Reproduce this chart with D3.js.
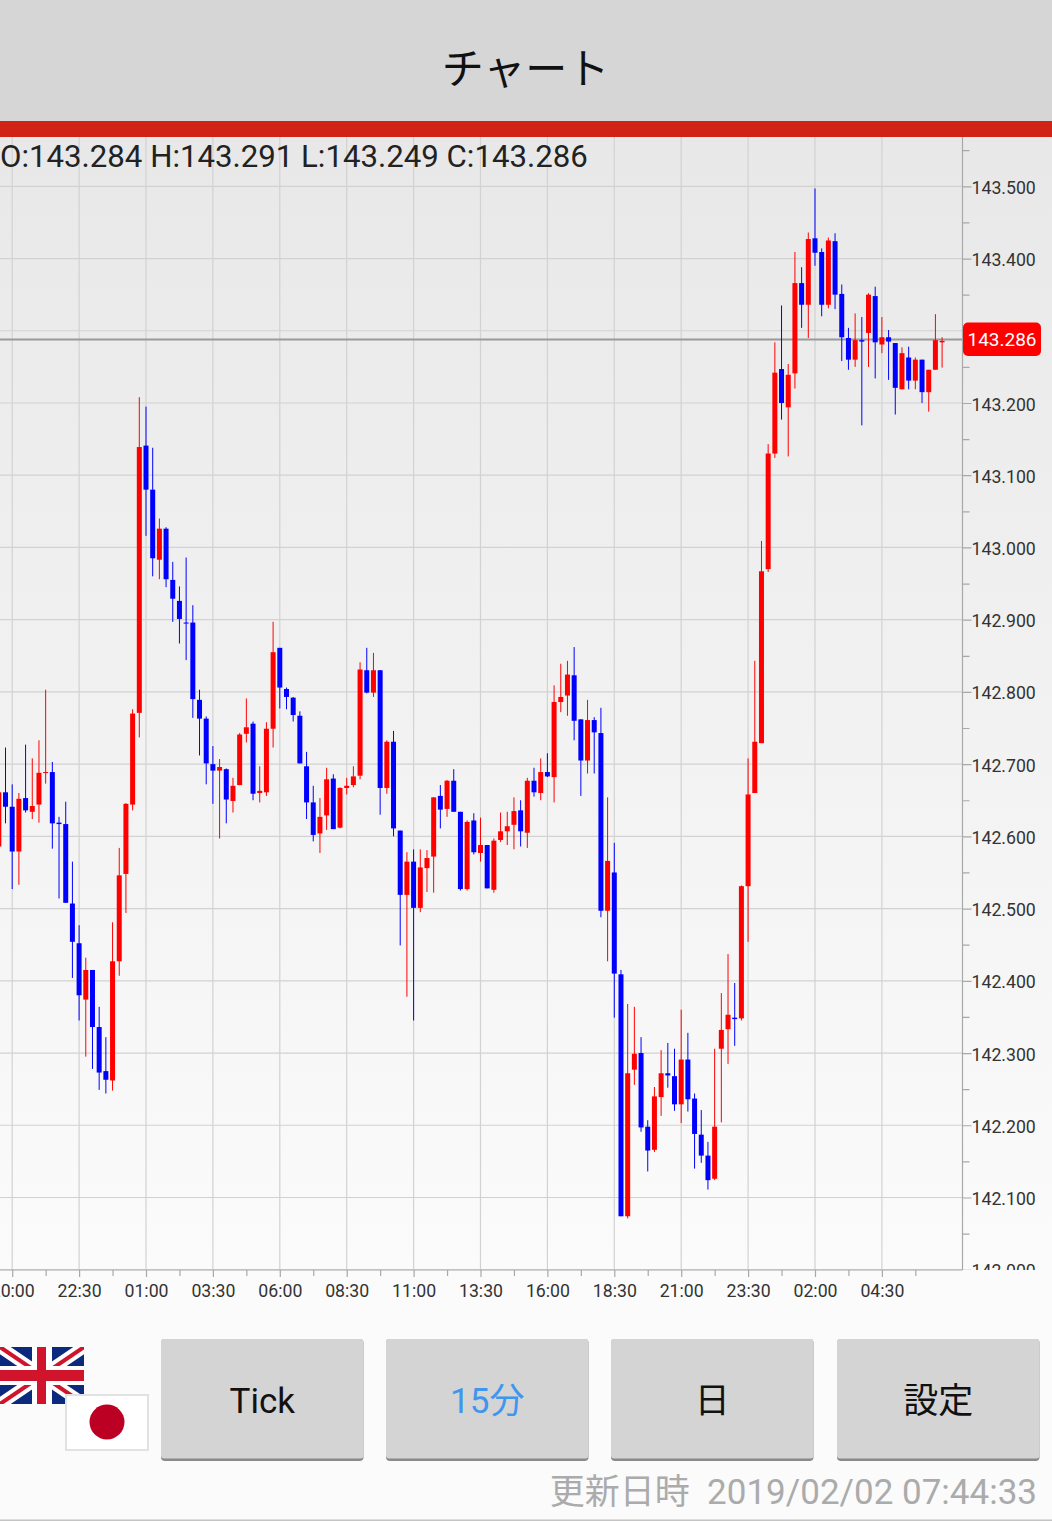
<!DOCTYPE html>
<html>
<head>
<meta charset="utf-8">
<script src="https://cdn.jsdelivr.net/npm/d3@7.9.0/dist/d3.min.js"></script>
<style>
    html, body { margin: 0; padding: 0; background: #fbfbfb; overflow: hidden; }
    svg { display: block; }
    text { font-family: Roboto, "Noto Sans CJK JP", sans-serif; }
    .cjk { font-family: "Noto Sans CJK JP", Roboto, sans-serif; }
</style>
</head>
<body>
<svg id="chart" width="1052" height="1521"></svg>
<script>
const opens = [
    142.586, 142.661, 142.641, 142.579, 142.653, 142.634, 142.644, 142.688, 142.689, 142.619,
    142.617, 142.507, 142.452, 142.374, 142.415, 142.336, 142.275, 142.262, 142.427, 142.548,
    142.644, 142.771,
    143.141, 143.080, 142.983, 143.026, 142.955, 142.926, 142.896, 142.896, 142.789, 142.763,
    142.700, 142.691, 142.693, 142.649, 142.671, 142.742, 142.756, 142.660, 142.661, 142.749,
    142.861, 142.804, 142.792, 142.767, 142.697, 142.647, 142.604, 142.629, 142.680, 142.612,
    142.667, 142.671, 142.684, 142.830, 142.799, 142.830, 142.667, 142.731, 142.608, 142.519,
    142.565, 142.501, 142.556, 142.572, 142.656, 142.638, 142.677, 142.634, 142.527, 142.622,
    142.577, 142.588, 142.526, 142.595, 142.607, 142.616, 142.636, 142.605, 142.677, 142.660,
    142.689, 142.682, 142.786, 142.795, 142.823, 142.762, 142.705, 142.761, 142.743, 142.497,
    142.550, 142.409, 142.074, 142.277, 142.300, 142.198, 142.166, 142.239, 142.272, 142.268,
    142.229, 142.291, 142.237, 142.187, 142.158, 142.126, 142.306, 142.333, 142.349, 142.348,
    142.531, 142.660, 142.729, 142.970, 143.130, 143.247, 143.194, 143.241, 143.366, 143.336,
    143.428, 143.409, 143.336, 143.424, 143.351, 143.290, 143.260, 143.287, 143.297, 143.348,
    143.281, 143.291, 143.283, 143.219, 143.263, 143.231, 143.260, 143.215, 143.246, 143.284
];
const highs = [
    142.670, 142.723, 142.672, 142.660, 142.727, 142.708, 142.733, 142.803, 142.703, 142.627,
    142.648, 142.565, 142.477, 142.432, 142.415, 142.364, 142.322, 142.481, 142.584, 142.646,
    142.776, 143.208,
    143.195, 143.138, 143.040, 143.028, 142.980, 142.946, 142.986, 142.920, 142.803, 142.766,
    142.725, 142.707, 142.694, 142.681, 142.743, 142.791, 142.759, 142.697, 142.758, 142.897,
    142.861, 142.806, 142.793, 142.773, 142.717, 142.670, 142.653, 142.695, 142.686, 142.668,
    142.681, 142.697, 142.841, 142.861, 142.854, 142.830, 142.733, 142.746, 142.608, 142.578,
    142.582, 142.582, 142.581, 142.654, 142.671, 142.678, 142.693, 142.634, 142.622, 142.632,
    142.626, 142.588, 142.597, 142.633, 142.634, 142.654, 142.650, 142.681, 142.695, 142.708,
    142.715, 142.809, 142.839, 142.843, 142.862, 142.762, 142.789, 142.765, 142.778, 142.654,
    142.591, 142.415, 142.368, 142.364, 142.322, 142.207, 142.253, 142.304, 142.314, 142.306,
    142.360, 142.328, 142.244, 142.221, 142.177, 142.306, 142.383, 142.437, 142.397, 142.532,
    142.708, 142.843, 143.009, 143.143, 143.284, 143.335, 143.254, 143.409, 143.388, 143.436,
    143.497, 143.414, 143.429, 143.435, 143.364, 143.304, 143.324, 143.319, 143.352, 143.361,
    143.319, 143.301, 143.283, 143.277, 143.278, 143.263, 143.260, 143.246, 143.323, 143.291
];
const lows = [
    142.570, 142.618, 142.527, 142.533, 142.633, 142.624, 142.619, 142.673, 142.583, 142.514,
    142.508, 142.404, 142.345, 142.295, 142.278, 142.249, 142.244, 142.248, 142.407, 142.494,
    142.636, 142.737,
    143.016, 142.960, 142.956, 142.945, 142.897, 142.867, 142.844, 142.764, 142.712, 142.672,
    142.645, 142.597, 142.618, 142.633, 142.671, 142.730, 142.650, 142.647, 142.656, 142.723,
    142.777, 142.776, 142.759, 142.701, 142.624, 142.593, 142.577, 142.609, 142.610, 142.611,
    142.658, 142.668, 142.679, 142.798, 142.793, 142.630, 142.659, 142.600, 142.449, 142.378,
    142.345, 142.495, 142.523, 142.522, 142.611, 142.627, 142.634, 142.525, 142.525, 142.575,
    142.565, 142.528, 142.522, 142.592, 142.588, 142.582, 142.586, 142.584, 142.655, 142.650,
    142.682, 142.647, 142.772, 142.767, 142.733, 142.656, 142.687, 142.687, 142.488, 142.427,
    142.349, 142.074, 142.071, 142.256, 142.191, 142.136, 142.163, 142.213, 142.252, 142.220,
    142.203, 142.219, 142.140, 142.148, 142.111, 142.124, 142.204, 142.285, 142.310, 142.345,
    142.454, 142.660, 142.729, 142.966, 143.124, 143.177, 143.126, 143.220, 143.304, 143.290,
    143.390, 143.320, 143.331, 143.330, 143.258, 143.246, 143.250, 143.169, 143.250, 143.234,
    143.269, 143.232, 143.184, 143.219, 143.219, 143.219, 143.200, 143.188, 143.246, 143.249
];
const closes = [
    142.661, 142.641, 142.579, 142.652, 142.636, 142.642, 142.688, 142.689, 142.618, 142.617,
    142.508, 142.454, 142.380, 142.415, 142.336, 142.273, 142.263, 142.427, 142.546, 142.645,
    142.770, 143.139,
    143.080, 142.985, 143.026, 142.956, 142.929, 142.901, 142.895, 142.790, 142.763, 142.701,
    142.691, 142.696, 142.651, 142.670, 142.741, 142.751, 142.659, 142.663, 142.749, 142.855,
    142.806, 142.793, 142.768, 142.701, 142.647, 142.602, 142.627, 142.679, 142.610, 142.667,
    142.670, 142.683, 142.831, 142.799, 142.830, 142.667, 142.731, 142.611, 142.519, 142.565,
    142.501, 142.557, 142.570, 142.654, 142.637, 142.677, 142.634, 142.527, 142.620, 142.578,
    142.588, 142.528, 142.594, 142.607, 142.614, 142.635, 142.607, 142.677, 142.661, 142.689,
    142.683, 142.786, 142.793, 142.824, 142.760, 142.705, 142.761, 142.744, 142.497, 142.566,
    142.410, 142.074, 142.272, 142.299, 142.197, 142.165, 142.240, 142.272, 142.269, 142.229,
    142.291, 142.236, 142.188, 142.158, 142.124, 142.198, 142.332, 142.353, 142.347, 142.531,
    142.658, 142.731, 142.967, 143.130, 143.242, 143.200, 143.239, 143.366, 143.336, 143.427,
    143.408, 143.336, 143.425, 143.350, 143.291, 143.260, 143.287, 143.285, 143.350, 143.284,
    143.291, 143.285, 143.221, 143.269, 143.231, 143.260, 143.215, 143.246, 143.287, 143.286
];
const firstIndex = -22;

const priceMajor = [142.0, 142.1, 142.2, 142.3, 142.4, 142.5, 142.6, 142.7, 142.8, 142.9, 143.0, 143.1, 143.2, 143.3, 143.4, 143.5];
const priceMinor = [142.05, 142.15, 142.25, 142.35, 142.45, 142.55, 142.65, 142.75, 142.85, 142.95, 143.05, 143.15, 143.25, 143.35, 143.45, 143.55];
const timeMajor = [-20, -10, 0, 10, 20, 30, 40, 50, 60, 70, 80, 90, 100, 110];
const timeMinor = [-15, -5, 5, 15, 25, 35, 45, 55, 65, 75, 85, 95, 105, 115];
const timeLabels = ['20:00', '22:30', '01:00', '03:30', '06:00', '08:30', '11:00', '13:30', '16:00', '18:30', '21:00', '23:30', '02:00', '04:30'];
const lastPrice = 143.286;
const lastLineLevel = 143.288;
const hiddenPriceLabel = 143.3;
const ohlcText = 'O:143.284 H:143.291 L:143.249 C:143.286';
const buttonLabels = ['Tick', '15分', '日', '設定'];

const svg = d3.select('#chart');
const plotRight = 962.5;
const plotTop = 137;
const plotBottom = 1270;

const x = d3.scaleLinear().domain([0, 119]).range([146, 942.1]);
const y = d3.scaleLinear().domain([142.1, 143.5]).range([1197.5, 186.3]);

const defs = svg.append('defs');
const gradient = defs.append('linearGradient')
    .attr('id', 'plotBg')
    .attr('x1', 0).attr('x2', 0).attr('y1', 0).attr('y2', 1);
gradient.append('stop').attr('offset', '0%').attr('stop-color', '#e8e8e8');
gradient.append('stop').attr('offset', '100%').attr('stop-color', '#fbfbfb');

defs.append('clipPath').attr('id', 'plotClip')
    .append('rect')
    .attr('x', 0).attr('y', plotTop)
    .attr('width', plotRight).attr('height', plotBottom - plotTop);
defs.append('clipPath').attr('id', 'labelClip')
    .append('rect')
    .attr('x', plotRight).attr('y', plotTop)
    .attr('width', 1052 - plotRight).attr('height', plotBottom - plotTop);

svg.append('rect').attr('width', 1052).attr('height', 1521).attr('fill', '#fbfbfb');
svg.append('rect')
    .attr('x', 0).attr('y', plotTop)
    .attr('width', 1052).attr('height', plotBottom - plotTop)
    .attr('fill', 'url(#plotBg)');

// header
svg.append('rect').attr('width', 1052).attr('height', 121).attr('fill', '#d6d6d6');
svg.append('rect').attr('y', 121).attr('width', 1052).attr('height', 16).attr('fill', '#d02317');
svg.append('text')
    .attr('class', 'cjk')
    .attr('x', 525.5).attr('y', 84)
    .attr('text-anchor', 'middle')
    .attr('font-size', 42)
    .attr('fill', '#111')
    .text('チャート');

// grid
const plot = svg.append('g').attr('clip-path', 'url(#plotClip)');
plot.selectAll('line.hgrid')
    .data(priceMajor.concat([143.6]))
    .join('line')
    .attr('class', 'hgrid')
    .attr('x1', 0).attr('x2', plotRight)
    .attr('y1', (d) => y(d)).attr('y2', (d) => y(d))
    .attr('stroke', '#d2d2d2')
    .attr('stroke-width', 1.2);
plot.selectAll('line.vgrid')
    .data(timeMajor)
    .join('line')
    .attr('class', 'vgrid')
    .attr('x1', (d) => x(d)).attr('x2', (d) => x(d))
    .attr('y1', plotTop).attr('y2', plotBottom)
    .attr('stroke', '#d2d2d2')
    .attr('stroke-width', 1.2);

// current price line
plot.append('line')
    .attr('x1', 0).attr('x2', plotRight)
    .attr('y1', y(lastLineLevel)).attr('y2', y(lastLineLevel))
    .attr('stroke', '#9a9a9a')
    .attr('stroke-width', 2);

// candles
const candles = d3.range(opens.length).map((i) => {
    return {
        index: firstIndex + i,
        open: opens[i],
        high: highs[i],
        low: lows[i],
        close: closes[i],
    };
});
const candleColor = (d) => d.close >= d.open ? '#ff0000' : '#0000ff';

plot.selectAll('line.wick')
    .data(candles)
    .join('line')
    .attr('class', 'wick')
    .attr('x1', (d) => x(d.index)).attr('x2', (d) => x(d.index))
    .attr('y1', (d) => y(d.high)).attr('y2', (d) => y(d.low))
    .attr('stroke', candleColor)
    .attr('stroke-width', 1);
plot.selectAll('rect.body')
    .data(candles)
    .join('rect')
    .attr('class', 'body')
    .attr('x', (d) => x(d.index) - 2.5)
    .attr('width', 5)
    .attr('y', (d) => y(Math.max(d.open, d.close)))
    .attr('height', (d) => Math.max(1, Math.abs(y(d.open) - y(d.close))))
    .attr('fill', candleColor);

// right axis
const priceMinorAxis = d3.axisRight(y).tickValues(priceMinor).tickSize(7).tickFormat('');
const priceAxis = d3.axisRight(y).tickValues(priceMajor).tickSize(9).tickPadding(0)
    .tickFormat((d) => d === hiddenPriceLabel ? '' : d3.format('.3f')(d));
const rightLabels = svg.append('g').attr('clip-path', 'url(#labelClip)');
rightLabels.append('g').attr('transform', `translate(${plotRight},0)`).call(priceMinorAxis);
rightLabels.append('g').attr('class', 'price-axis').attr('transform', `translate(${plotRight},0)`).call(priceAxis);
rightLabels.selectAll('.domain').remove();
rightLabels.selectAll('line').attr('stroke', '#a8a8a8').attr('stroke-width', 1.2);
rightLabels.selectAll('.price-axis text')
    .attr('font-size', 17.7)
    .attr('dy', '0.34em')
    .attr('transform', 'translate(0,1)')
    .attr('fill', '#333')
    .style('font-family', 'Roboto');

// bottom axis
const timeMinorAxis = d3.axisBottom(x).tickValues(timeMinor).tickSize(6).tickFormat('');
const timeAxis = d3.axisBottom(x).tickValues(timeMajor).tickSize(7).tickPadding(7)
    .tickFormat((d, i) => timeLabels[i]);
const bottom = svg.append('g');
bottom.append('g').attr('transform', `translate(0,${plotBottom})`).call(timeMinorAxis);
bottom.append('g').attr('class', 'time-axis').attr('transform', `translate(0,${plotBottom})`).call(timeAxis);
bottom.selectAll('.domain').remove();
bottom.selectAll('line').attr('stroke', '#a8a8a8').attr('stroke-width', 1.2);
bottom.selectAll('.time-axis text')
    .attr('font-size', 17.7)
    .attr('fill', '#333')
    .style('font-family', 'Roboto');

// axis frame
svg.append('line')
    .attr('x1', plotRight).attr('x2', plotRight)
    .attr('y1', plotTop).attr('y2', plotBottom)
    .attr('stroke', '#a8a8a8').attr('stroke-width', 1.2);
svg.append('line')
    .attr('x1', 0).attr('x2', plotRight)
    .attr('y1', plotBottom).attr('y2', plotBottom)
    .attr('stroke', '#a8a8a8').attr('stroke-width', 1.2);

// OHLC readout
svg.append('text')
    .attr('x', 0).attr('y', 167)
    .attr('font-size', 31.2)
    .attr('fill', '#222')
    .text(ohlcText);

// current price tag
svg.append('rect')
    .attr('x', 963).attr('y', y(lastLineLevel) - 17)
    .attr('width', 78).attr('height', 33.5)
    .attr('rx', 5)
    .attr('fill', '#ff0000');
svg.append('text')
    .attr('x', 1002).attr('y', y(lastLineLevel) + 7)
    .attr('text-anchor', 'middle')
    .attr('font-size', 19)
    .attr('fill', '#fff')
    .text(d3.format('.3f')(lastPrice));

// UK flag
const uk = svg.append('g');
defs.append('clipPath').attr('id', 'ukClip')
    .append('rect').attr('x', 0).attr('y', 1347).attr('width', 84).attr('height', 57);
uk.attr('clip-path', 'url(#ukClip)');
uk.append('rect').attr('x', 0).attr('y', 1347).attr('width', 84).attr('height', 57).attr('fill', '#0b2a7d');
[[0, 1347, 84, 1404], [0, 1404, 84, 1347]].forEach((p) => {
    uk.append('line')
        .attr('x1', p[0]).attr('y1', p[1]).attr('x2', p[2]).attr('y2', p[3])
        .attr('stroke', '#fff').attr('stroke-width', 12);
    uk.append('line')
        .attr('x1', p[0]).attr('y1', p[1]).attr('x2', p[2]).attr('y2', p[3])
        .attr('stroke', '#cf142b').attr('stroke-width', 4);
});
uk.append('rect').attr('x', 0).attr('y', 1366).attr('width', 84).attr('height', 19).attr('fill', '#fff');
uk.append('rect').attr('x', 32).attr('y', 1347).attr('width', 20).attr('height', 57).attr('fill', '#fff');
uk.append('rect').attr('x', 0).attr('y', 1370).attr('width', 84).attr('height', 11).attr('fill', '#cf142b');
uk.append('rect').attr('x', 37).attr('y', 1347).attr('width', 9).attr('height', 57).attr('fill', '#cf142b');

// Japan flag
svg.append('rect')
    .attr('x', 66).attr('y', 1395)
    .attr('width', 82).attr('height', 55)
    .attr('fill', '#fff')
    .attr('stroke', '#e2e2e2')
    .attr('stroke-width', 2);
svg.append('circle').attr('cx', 107).attr('cy', 1422).attr('r', 17.5).attr('fill', '#bc0024');

// buttons
const buttonLeft = [161, 386, 611, 837];
const buttonWidth = 202.5;
buttonLabels.forEach((label, i) => {
    svg.append('rect')
        .attr('x', buttonLeft[i]).attr('y', 1339)
        .attr('width', buttonWidth).attr('height', 122)
        .attr('rx', 4)
        .attr('fill', '#8a8a8a');
    svg.append('rect')
        .attr('x', buttonLeft[i]).attr('y', 1339)
        .attr('width', buttonWidth).attr('height', 119.5)
        .attr('rx', 3)
        .attr('fill', '#d4d4d4');
    svg.append('text')
        .attr('x', buttonLeft[i] + buttonWidth / 2).attr('y', 1413)
        .attr('text-anchor', 'middle')
        .attr('font-size', 35)
        .attr('fill', label === '15分' ? '#3f96ef' : '#111')
        .text(label);
});

// footer
svg.append('text')
    .attr('x', 1037).attr('y', 1504)
    .attr('text-anchor', 'end')
    .attr('font-size', 35)
    .attr('fill', '#ababab')
    .text('更新日時\u00a0\u00a02019/02/02 07:44:33');
svg.append('rect').attr('x', 0).attr('y', 1519.5).attr('width', 1052).attr('height', 1.5).attr('fill', '#c4c4c4');
</script>
</body>
</html>
